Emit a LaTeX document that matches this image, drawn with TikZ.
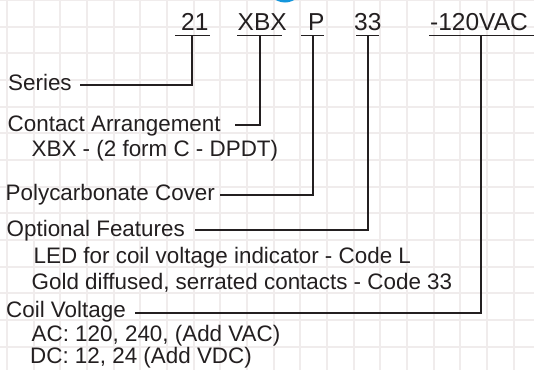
\documentclass[tikz,border=0pt]{standalone}
\usepackage{fontspec}
\setmainfont{Liberation Sans}
\definecolor{gridc}{RGB}{240,236,236}
\definecolor{ink}{RGB}{35,31,32}
\definecolor{dotblue}{RGB}{20,150,220}
\begin{document}
\begin{tikzpicture}[x=1pt,y=-1pt,
  lab/.style={anchor=base west,inner sep=0pt,font=\fontsize{22.4}{26}\selectfont,text=ink},
  code/.style={anchor=base west,inner sep=0pt,font=\fontsize{24.5}{28}\selectfont,text=ink},
  wire/.style={draw=ink,line width=1.8pt},
  uline/.style={draw=ink,line width=1.8pt},
  gridline/.style={draw=gridc,line width=2pt}]
\useasboundingbox (0,0) rectangle (534,370);
\begin{scope}
  \clip (0,0) rectangle (534,370);
  \fill[white] (0,0) rectangle (534,370);
  \foreach \i in {0,...,20} \draw[gridline] (7+26.67*\i,0) -- (7+26.67*\i,370);
  \foreach \i in {0,...,14} \draw[gridline] (0,26.67*\i) -- (534,26.67*\i);
  \fill[dotblue] (285,-15.5) circle (18);
\end{scope}

% code letters
\node[code] (c21) at (181,30.5) {21};
\node[code] (cxbx) at (237.5,30.5) {XBX};
\node[code] (cp) at (308,30.5) {P};
\node[code] (c33) at (354,30.5) {33};
\node[code] (cv) at (430,30.5) {-120VAC};

% underline points
\coordinate (u21a) at (175,35.5); \coordinate (u21b) at (210,35.5); \coordinate (u21) at (192,35.5);
\coordinate (uxa) at (237,35.5); \coordinate (uxb) at (282,35.5); \coordinate (ux) at (260,35.5);
\coordinate (upa) at (301,35.5); \coordinate (upb) at (324,35.5); \coordinate (up) at (313,35.5);
\coordinate (u3a) at (356,35.5); \coordinate (u3b) at (379,35.5); \coordinate (u3) at (368,35.5);
\coordinate (uva) at (429,35.5); \coordinate (uvb) at (534,35.5); \coordinate (uv) at (481,35.5);
\draw[uline] (u21a) -- (u21b);
\draw[uline] (uxa) -- (uxb);
\draw[uline] (upa) -- (upb);
\draw[uline] (u3a) -- (u3b);
\draw[uline] (uva) -- (uvb);

% labels
\node[lab] (series) at (8,90.7) {Series};
\node[lab] (contact) at (7.5,131.5) {Contact Arrangement};
\node[lab] (xbxd) at (31.5,156.5) {XBX - (2 form C - DPDT)};
\node[lab] (poly) at (5.5,200) {Polycarbonate Cover};
\node[lab] (opt) at (6.5,236.5) {Optional Features};
\node[lab] (led) at (33.5,263.5) {LED for coil voltage indicator - Code L};
\node[lab] (gold) at (31.5,289) {Gold diffused, serrated contacts - Code 33};
\node[lab] (coil) at (6,317) {Coil Voltage};
\node[lab] (ac) at (31.5,341) {AC: 120, 240, (Add VAC)};
\node[lab] (dc) at (30,363) {DC: 12, 24 (Add VDC)};

% connector starts
\coordinate (sser) at (80,85);
\coordinate (scon) at (235,125);
\coordinate (spol) at (220,195);
\coordinate (sopt) at (195,230);
\coordinate (scoil) at (135,313);

\draw[wire] (sser) -| (u21);
\draw[wire] (scon) -| (ux);
\draw[wire] (spol) -| (up);
\draw[wire] (sopt) -| (u3);
\draw[wire] (scoil) -| (uv);
\end{tikzpicture}
\end{document}
